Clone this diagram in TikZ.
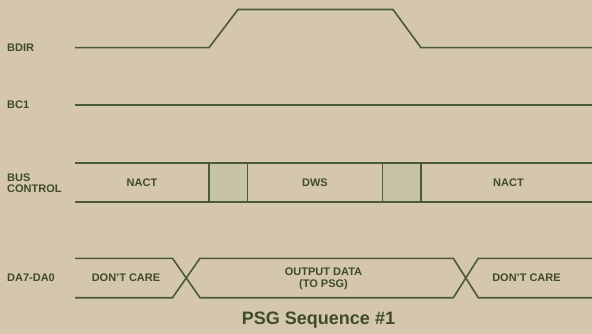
\documentclass[tikz,border=0pt]{standalone}
\usepackage{fontspec}
\setmainfont{Liberation Sans}
\definecolor{bgc}{HTML}{D4C7AE}
\definecolor{wave}{HTML}{4B5A38}
\definecolor{txt}{HTML}{3F4B2C}
\definecolor{boxc}{HTML}{C7C3A7}
\begin{document}
\begin{tikzpicture}[x=1pt,y=-1pt,
  wv/.style={draw=wave,line width=1.6pt,line join=miter},
  sig/.style={text=txt,font=\fontsize{11}{12.5}\selectfont\bfseries,anchor=west,inner sep=0pt,align=left},
  lbl/.style={text=txt,font=\fontsize{11}{12.5}\selectfont\bfseries,inner sep=0pt,align=center},
  ttl/.style={text=txt,font=\fontsize{18}{20}\selectfont\bfseries,inner sep=0pt}]
\fill[bgc] (0,0) rectangle (592,334);
\useasboundingbox (0,0) rectangle (592,334);
% signal names
\node[sig] (nbdir) at (7,47.5) {BDIR};
\node[sig] (nbc1) at (7,104.5) {BC1};
\node[sig] (nbus) at (7,183) {BUS\\[-1pt]CONTROL};
\node[sig] (nda) at (7,277.7) {DA7-DA0};
% BDIR
\draw[wv] (75,47.7) -- (209,47.7) -- (238,9.5) -- (393,9.5) -- (421,47.7) -- (592,47.7);
% BC1
\draw[wv] (75,105) -- (592,105);
% BUS CONTROL
\fill[boxc] (209,163.3) rectangle (247.7,201.7);
\fill[boxc] (382.7,163.3) rectangle (421,201.7);
\draw[wv] (75,163.3) -- (592,163.3);
\draw[wv] (75,201.7) -- (592,201.7);
\draw[wave,line width=1.1pt] (209,163.3) -- (209,201.7);
\draw[wave,line width=1.1pt] (247.7,163.3) -- (247.7,201.7);
\draw[wave,line width=1.1pt] (382.7,163.3) -- (382.7,201.7);
\draw[wave,line width=1.1pt] (421,163.3) -- (421,201.7);
\node[lbl] (nact1) at (142,182.5) {NACT};
\node[lbl] (dws) at (315,182.5) {DWS};
\node[lbl] (nact2) at (508.5,182.5) {NACT};
% DA7-DA0
\draw[wv] (75,258.3) -- (172.5,258.3) -- (200,297.7) -- (453.3,297.7) -- (478.3,258.3) -- (592,258.3);
\draw[wv] (75,297.7) -- (172.5,297.7) -- (200,258.3) -- (453.3,258.3) -- (478.3,297.7) -- (592,297.7);
\node[lbl] (dc1) at (126,277.7) {DON'T CARE};
\node[lbl] (out) at (323.5,278.5) {OUTPUT DATA\\[-0.5pt](TO PSG)};
\node[lbl] (dc2) at (526.5,277.7) {DON'T CARE};
% title
\node[ttl] (title) at (318.5,320.5) {PSG Sequence \#1};
\end{tikzpicture}
\end{document}
